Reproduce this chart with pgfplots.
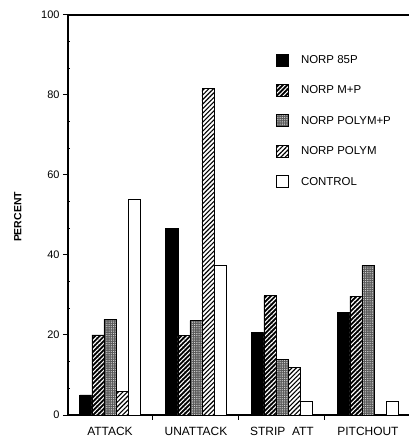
\documentclass[border=0pt]{standalone}
\usepackage{pgfplots}
\pgfplotsset{compat=1.18}
\usepackage{fontspec}
\setmainfont{Liberation Sans}
\usetikzlibrary{patterns.meta}
\pgfplotsset{sqleg/.style={legend image code/.code={\draw[##1] (0bp,-6bp) rectangle (12bp,6bp); \path (0bp,0bp) (22bp,0bp);}}}
\begin{document}
\begin{tikzpicture}
\begin{axis}[
  scale only axis, width=341bp, height=400bp,
  xmin=-0.488, xmax=3.477, ymin=0, ymax=100,
  axis x line=bottom, axis y line=left,
  axis line style={line width=1.1bp, -},
  clip=false,
  /pgf/number format/assume math mode=true,
  xtick={0.5,1.5,2.5}, xticklabels={},
  extra x ticks={0,1,2,3},
  extra x tick labels={ATTACK,UNATTACK,STRIP\ \ ATT,PITCHOUT},
  extra x tick style={major tick length=0pt, tick label style={font=\fontsize{12}{14}\selectfont, yshift=-9bp}},
  ytick={0,20,40,60,80,100},
  tick align=outside,
  major tick length=5bp,
  tick style={line width=1bp, black},
  extra y ticks={6.667,13.333,26.667,33.333,46.667,53.333,66.667,73.333,86.667,93.333},
  extra y tick labels={},
  extra y tick style={tick align=inside, major tick length=2.5bp},
  y tick label style={font=\fontsize{11}{13}\selectfont},
  ylabel={\textbf{PERCENT}},
  every axis y label/.style={at={(axis description cs:-0.147,0.495)}, rotate=90, anchor=center, font=\fontsize{10.5}{12}\selectfont},
  legend style={draw=none, fill=none, at={(rel axis cs:0.61,0.905)}, anchor=north west,
    font=\fontsize{11.5}{13}\selectfont, row sep=17bp, inner sep=0pt},
  legend cell align=left,
]
\addplot[ybar, bar width=0.14, bar shift=-0.28, draw=black, line width=0.8bp, fill=black, sqleg]
  coordinates {(0,5) (1,46.7) (2,20.7) (3,25.6)};
\addlegendentry{NORP 85P}
\addplot[ybar, bar width=0.14, bar shift=-0.14, draw=black, line width=0.8bp, fill=black,
  postaction={pattern={Lines[angle=45,distance=3.2bp,line width=1.1bp]}, pattern color=white}, sqleg]
  coordinates {(0,20) (1,19.8) (2,29.8) (3,29.7)};
\addlegendentry{NORP M+P}
\addplot[ybar, bar width=0.14, bar shift=0, draw=black, line width=0.8bp, fill=black!65,
  postaction={pattern={Dots[radius=0.45bp,distance=1.8bp]}, pattern color=white}, sqleg]
  coordinates {(0,23.9) (1,23.6) (2,13.8) (3,37.4)};
\addlegendentry{NORP POLYM+P}
\addplot[ybar, bar width=0.14, bar shift=0.14, draw=black, line width=0.8bp, fill=white,
  postaction={pattern={Lines[angle=45,distance=3.2bp,line width=1.1bp]}, pattern color=black}, sqleg]
  coordinates {(0,5.8) (1,81.6) (2,11.9)};
\addlegendentry{NORP POLYM}
\addplot[ybar, bar width=0.14, bar shift=0.28, draw=black, line width=0.8bp, fill=white, sqleg]
  coordinates {(0,53.8) (1,37.5) (2,3.5) (3,3.4)};
\addlegendentry{CONTROL}
\draw[line width=1.1bp] (rel axis cs:0,1) -- (rel axis cs:1,1);
\end{axis}
\pgfresetboundingbox
\path (-68bp,-23bp) rectangle (341bp,415bp);
\end{tikzpicture}
\end{document}
